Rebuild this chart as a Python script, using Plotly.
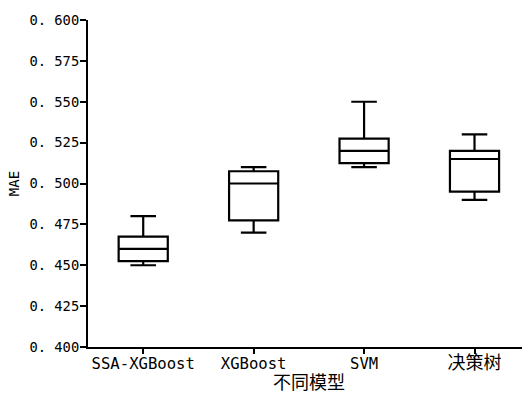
import plotly.graph_objects as go

categories = ["SSA-XGBoost", "XGBoost", "SVM", "决策树"]
lower_whisker = [0.450, 0.470, 0.510, 0.490]
q1_values = [0.4525, 0.4775, 0.5125, 0.495]
median_values = [0.460, 0.500, 0.520, 0.515]
q3_values = [0.4675, 0.5075, 0.5275, 0.520]
upper_whisker = [0.480, 0.510, 0.550, 0.530]

y_tick_values = [0.400, 0.425, 0.450, 0.475, 0.500, 0.525, 0.550, 0.575, 0.600]
y_tick_labels = ["0. 400", "0. 425", "0. 450", "0. 475", "0. 500", "0. 525", "0. 550", "0. 575", "0. 600"]

x_title = "不同模型"
y_title = "MAE"

MONO = "DejaVu Sans Mono, Noto Sans CJK SC, sans-serif"
CJK = "Noto Sans CJK SC, sans-serif"


def label_html(s):
    if any(ord(c) > 127 for c in s):
        return '<span style="font-size:18px;font-family:Noto Sans CJK SC">' + s + "</span>"
    return s


fig = go.Figure()
fig.add_trace(go.Box(
    x=list(range(len(categories))),
    q1=q1_values,
    median=median_values,
    q3=q3_values,
    lowerfence=lower_whisker,
    upperfence=upper_whisker,
    width=0.445,
    whiskerwidth=0.52,
    line=dict(color="black", width=2.2),
    fillcolor="white",
    boxpoints=False,
    showlegend=False,
))

fig.add_annotation(
    text=x_title, xref="paper", yref="paper", x=0.509, y=-0.104,
    xanchor="center", yanchor="middle", showarrow=False,
    font=dict(size=18, family=CJK, color="black"),
)

fig.update_layout(
    width=522, height=394,
    margin=dict(l=88, r=0, t=20, b=47),
    paper_bgcolor="white", plot_bgcolor="white",
    font=dict(family=MONO, color="black"),
    xaxis=dict(
        range=[-0.5, 3.43],
        tickmode="array",
        tickvals=list(range(len(categories))),
        ticktext=[label_html(c) for c in categories],
        tickfont=dict(size=15.6, family=MONO, color="black"),
        ticks="outside", ticklen=5, tickwidth=1.5, tickcolor="black",
        ticklabelstandoff=-4,
        showline=True, linecolor="black", linewidth=2,
        showgrid=False, zeroline=False, automargin=False,
    ),
    yaxis=dict(
        range=[0.4, 0.6],
        tickmode="array",
        tickvals=y_tick_values,
        ticktext=y_tick_labels,
        tickfont=dict(size=13.8, family=MONO, color="black"),
        ticks="outside", ticklen=6, tickwidth=1.5, tickcolor="black",
        ticklabelstandoff=-2,
        showline=True, linecolor="black", linewidth=2,
        showgrid=False, zeroline=False, automargin=False,
        title=dict(text=y_title, font=dict(size=14, family=MONO, color="black"), standoff=6),
    ),
)

fig.write_html("out.html")
